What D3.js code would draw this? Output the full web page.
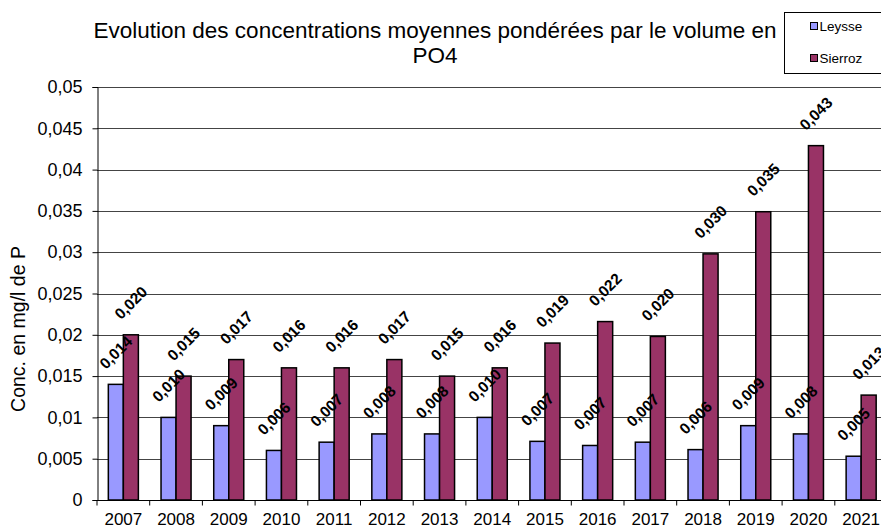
<html>
<head>
<script src="https://d3js.org/d3.v7.min.js"></script>
<style>
  body { margin: 0; background: #fff; }
  text { font-family: "Liberation Sans", Arial, sans-serif; }
</style>
</head>
<body>
<script>
// data
var years = ["2007", "2008", "2009", "2010", "2011", "2012", "2013", "2014",
             "2015", "2016", "2017", "2018", "2019", "2020", "2021"];
var leysse = [0.014, 0.010, 0.009, 0.006, 0.007, 0.008, 0.008, 0.010,
              0.0071, 0.0066, 0.0070, 0.0061, 0.009, 0.008, 0.0053];
var sierroz = [0.020, 0.015, 0.017, 0.016, 0.016, 0.017, 0.015, 0.016,
               0.019, 0.0216, 0.0198, 0.0298, 0.0349, 0.0429, 0.0127];
var seriesNames = ["Leysse", "Sierroz"];
var yTicks = [0, 0.005, 0.01, 0.015, 0.02, 0.025, 0.03, 0.035, 0.04, 0.045, 0.05];

var colors = { Leysse: "#9999ff", Sierroz: "#993366" };

var W = 881, H = 528;
var plotL = 97, plotR = 97 + 15 * 52.7, plotT = 87, plotB = 500;

var svg = d3.select("body").append("svg")
    .attr("width", W)
    .attr("height", H);

var x0 = d3.scaleBand().domain(years).range([plotL, plotR])
    .paddingInner(0.43).paddingOuter(0.215);
var x1 = d3.scaleBand().domain(seriesNames).range([0, x0.bandwidth()]);
var y = d3.scaleLinear().domain([0, 0.05]).range([plotB, plotT]);

var fmt = function(v) { return d3.format(".3f")(v).replace(".", ","); };
var fmtTick = function(v) { return v === 0 ? "0" : String(+v.toFixed(3)).replace(".", ","); };

// gridlines
svg.append("g").selectAll("line")
    .data(yTicks.filter(function(d) { return d > 0; }))
    .enter().append("line")
    .attr("x1", plotL).attr("x2", W)
    .attr("y1", function(d) { return Math.round(y(d)) + 0.5; })
    .attr("y2", function(d) { return Math.round(y(d)) + 0.5; })
    .attr("stroke", "#444").attr("stroke-width", 1);

// y axis
var yAxis = d3.axisLeft(y).tickValues(yTicks).tickFormat(fmtTick).tickSize(5).tickPadding(10);
var gy = svg.append("g").attr("transform", "translate(" + (plotL + 0.5) + ",0)").call(yAxis);
gy.select(".domain").attr("stroke", "#000");
gy.selectAll(".tick line").attr("stroke", "#000");
gy.selectAll("text").attr("font-size", "18px").attr("fill", "#000")
    .attr("font-family", "Liberation Sans, Arial, sans-serif");

// x axis: ticks between categories
var gx = svg.append("g").attr("transform", "translate(0," + (Math.round(plotB) + 0.5) + ")");
gx.append("line").attr("x1", plotL).attr("x2", W).attr("stroke", "#000");
var step = x0.step();
gx.selectAll(".sep").data(d3.range(years.length + 1)).enter().append("line")
    .attr("x1", function(i) { return plotL + i * step; })
    .attr("x2", function(i) { return plotL + i * step; })
    .attr("y1", 0).attr("y2", 5).attr("stroke", "#000");
gx.selectAll(".lab").data(years).enter().append("text")
    .attr("x", function(d) { return x0(d) + x0.bandwidth() / 2; })
    .attr("y", 24)
    .attr("text-anchor", "middle")
    .attr("font-size", "17px")
    .text(function(d) { return d; });

// bars
var rows = years.map(function(yr, i) {
  return { year: yr, vals: [{ key: "Leysse", v: leysse[i] }, { key: "Sierroz", v: sierroz[i] }] };
});
var grp = svg.append("g").selectAll("g").data(rows).enter().append("g")
    .attr("transform", function(d) { return "translate(" + x0(d.year) + ",0)"; });
grp.selectAll("rect").data(function(d) { return d.vals; }).enter().append("rect")
    .attr("x", function(d) { return x1(d.key); })
    .attr("y", function(d) { return y(d.v); })
    .attr("width", x1.bandwidth())
    .attr("height", function(d) { return y(0) - y(d.v); })
    .attr("fill", function(d) { return colors[d.key]; })
    .attr("stroke", "#000").attr("stroke-width", 1.5);

// value labels
grp.selectAll("text").data(function(d) { return d.vals; }).enter().append("text")
    .attr("transform", function(d) {
      var cx = x1(d.key) + x1.bandwidth() / 2;
      return "translate(" + cx + "," + (y(d.v) - 32) + ") rotate(-45)";
    })
    .attr("text-anchor", "middle")
    .attr("dy", "0.35em")
    .attr("font-size", "15.5px")
    .attr("font-weight", "bold")
    .text(function(d) { return fmt(d.v); });

// title
var title = svg.append("g").attr("font-size", "22.5px").attr("text-anchor", "middle");
title.append("text").attr("x", 435).attr("y", 38)
    .text("Evolution des concentrations moyennes pondérées par le volume en");
title.append("text").attr("x", 435).attr("y", 63).text("PO4");

// y axis title
svg.append("text")
    .attr("transform", "translate(25,329) rotate(-90)")
    .attr("text-anchor", "middle")
    .attr("font-size", "19.5px")
    .text("Conc. en mg/l de P");

// legend
var lg = svg.append("g").attr("transform", "translate(784.5,12.5)");
lg.append("rect").attr("width", 110).attr("height", 61)
    .attr("fill", "#fff").attr("stroke", "#000");
seriesNames.forEach(function(s, i) {
  var row = lg.append("g").attr("transform", "translate(26," + (14 + i * 32) + ")");
  row.append("rect").attr("x", 0).attr("y", -4).attr("width", 7).attr("height", 7)
      .attr("fill", colors[s]).attr("stroke", "#000");
  row.append("text").attr("x", 9).attr("y", 4).attr("font-size", "13.5px").text(s);
});
</script>
</body>
</html>
